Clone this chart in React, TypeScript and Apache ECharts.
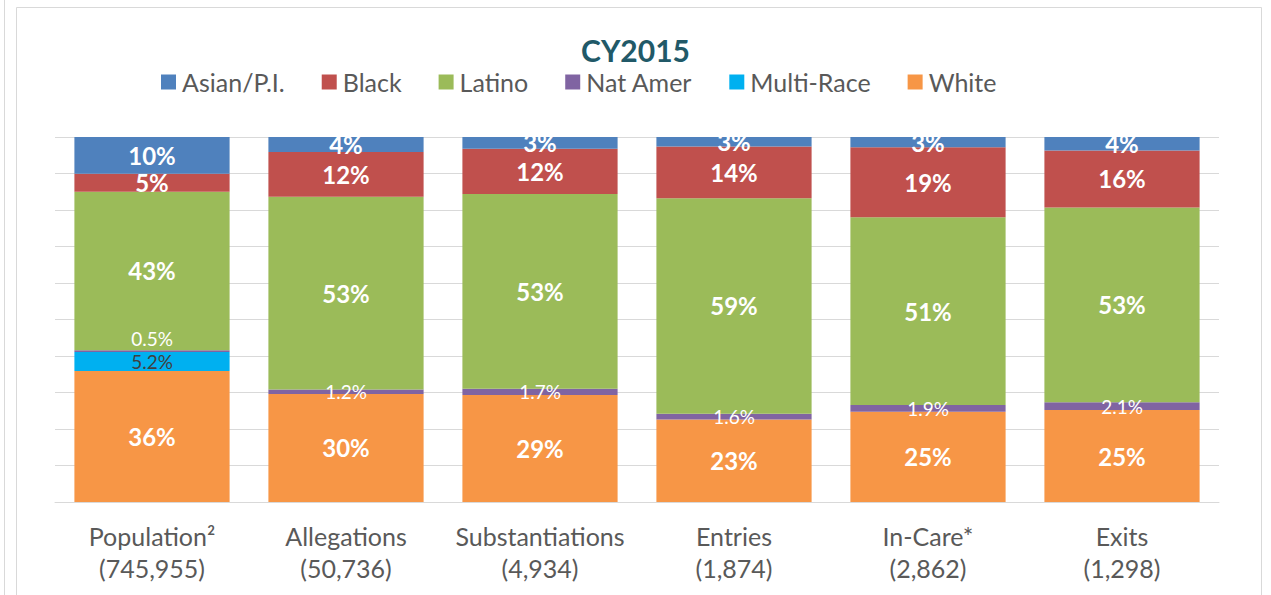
import React, { useEffect, useRef } from "react";
import * as echarts from "echarts";

const categories = [
  "Population²\n(745,955)",
  "Allegations\n(50,736)",
  "Substantiations\n(4,934)",
  "Entries\n(1,874)",
  "In-Care*\n(2,862)",
  "Exits\n(1,298)",
];
const white = [35.9, 29.6, 29.3, 22.6, 24.7, 25.2];
const multiRace = [5.2, 0, 0, 0, 0, 0];
const natAmer = [0.5, 1.2, 1.7, 1.6, 1.9, 2.1];
const latino = [43.4, 52.8, 53.4, 59.0, 51.4, 53.4];
const black = [4.9, 12.3, 12.4, 14.2, 19.2, 15.6];
const asian = [10.1, 4.1, 3.2, 2.6, 2.8, 3.7];
const legendOrder = ["Asian/P.I.", "Black", "Latino", "Nat Amer", "Multi-Race", "White"];

const FONT = "Lato";

export default function App() {
  const ref = useRef<HTMLDivElement>(null);
  useEffect(() => {
    const chart = echarts.init(ref.current!, null, { renderer: "svg" });
    const bigLabel = {
      show: true,
      position: "inside",
      color: "#ffffff",
      fontWeight: "bold",
      fontSize: 24,
      fontFamily: FONT,
      formatter: (p: any) => (p.value ? Math.round(p.value) + "%" : ""),
    };
    const smallLabel = (color: string) => ({
      show: true,
      position: "inside",
      color,
      fontSize: 19,
      lineHeight: 15,
      fontFamily: FONT,
      formatter: (p: any) => (p.value ? p.value.toFixed(1) + "%" : ""),
    });
    const mk = (name: string, data: any[], color: string, label: any) => ({
      name,
      type: "bar",
      stack: "total",
      barWidth: "80%",
      data,
      itemStyle: { color },
      label,
    });
    const natData: any[] = natAmer.map((v, i) =>
      i === 0 ? { value: v, label: { position: "top", distance: 4 } } : v
    );
    chart.setOption({
      animation: false,
      title: {
        text: "CY2015",
        left: "center",
        top: 35,
        padding: 0,
        textStyle: {
          fontSize: 30,
          lineHeight: 30,
          fontWeight: "bold",
          color: "#215968",
          fontFamily: FONT,
        },
      },
      legend: {
        data: legendOrder,
        left: 161,
        top: 69,
        padding: 0,
        itemWidth: 15,
        itemHeight: 15,
        itemGap: 37,
        icon: "rect",
        textStyle: {
          fontSize: 25,
          lineHeight: 26,
          color: "#595959",
          fontFamily: FONT,
          padding: [0, 0, 0, 1],
        },
      },
      grid: { left: 55, right: 52, top: 137, bottom: 93, containLabel: false },
      xAxis: {
        type: "category",
        data: categories,
        axisLine: { lineStyle: { color: "#d9d9d9", width: 1 } },
        axisTick: { show: false },
        axisLabel: {
          color: "#595959",
          fontSize: 25,
          fontFamily: FONT,
          lineHeight: 32,
          margin: 18,
          interval: 0,
        },
      },
      yAxis: {
        type: "value",
        min: 0,
        max: 100,
        interval: 10,
        axisLabel: { show: false },
        axisLine: { show: false },
        axisTick: { show: false },
        splitLine: { lineStyle: { color: "#d9d9d9", width: 1 } },
      },
      graphic: [
        {
          type: "rect",
          shape: { x: 16.5, y: 7.5, width: 1245, height: 600 },
          style: { fill: "none", stroke: "#d9d9d9", lineWidth: 1 },
          silent: true,
        },
        {
          type: "line",
          shape: { x1: 4.5, y1: 0, x2: 4.5, y2: 595 },
          style: { stroke: "#d9d9d9", lineWidth: 1 },
          silent: true,
        },
      ],
      series: [
        mk("White", white, "#F79646", bigLabel),
        mk("Multi-Race", multiRace, "#00B0F0", smallLabel("#404040")),
        mk("Nat Amer", natData, "#8064A2", smallLabel("#ffffff")),
        mk("Latino", latino, "#9BBB59", bigLabel),
        mk("Black", black, "#C0504D", bigLabel),
        mk("Asian/P.I.", asian, "#4F81BD", bigLabel),
      ],
    });
    return () => chart.dispose();
  }, []);
  return (
    <div
      ref={ref}
      style={{ position: "fixed", left: 0, top: 0, width: 1271, height: 595, background: "#fff" }}
    />
  );
}
